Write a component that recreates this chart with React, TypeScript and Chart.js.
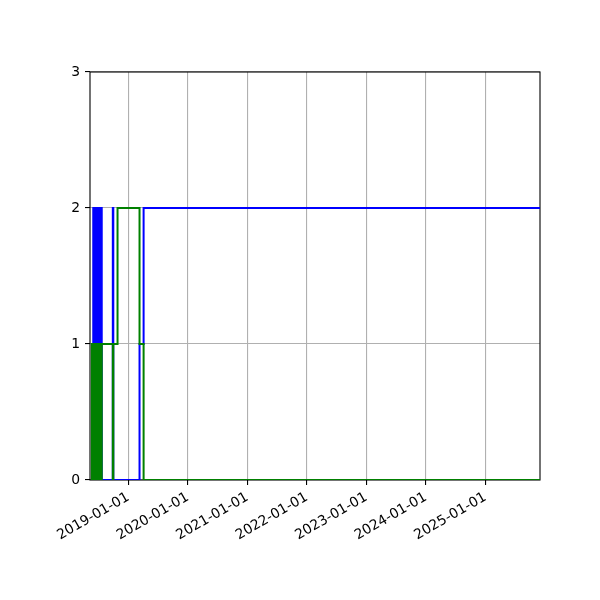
import React, { useEffect, useRef } from 'react';
import { Chart, registerables } from 'chart.js';

Chart.register(...registerables);

// dates where the values change (step held until the next date)
const changeDates = [
  '2018-05-20', '2018-05-22',
  '2018-05-31', '2018-06-04', '2018-06-08', '2018-06-12', '2018-06-16', '2018-06-20', '2018-06-24',
  '2018-06-28', '2018-07-02', '2018-07-06', '2018-07-10', '2018-07-14', '2018-07-18', '2018-07-22',
  '2018-09-28', '2018-10-01', '2018-10-27', '2019-03-11', '2019-04-05', '2025-12-02',
];
const blueValues = [0, 0, 2, 0, 2, 0, 2, 0, 2, 0, 2, 0, 2, 0, 2, 0, 2, 0, 0, 1, 2, 2];
const greenValues = [0, 1, 0, 1, 0, 1, 0, 1, 0, 1, 0, 1, 0, 1, 0, 1, 0, 1, 2, 1, 0, 0];

const xTickDates = ['2019-01-01', '2020-01-01', '2021-01-01', '2022-01-01', '2023-01-01', '2024-01-01', '2025-01-01'];
const yTicks = [0, 1, 2, 3];
const xMinDate = '2018-05-11';
const xMaxDate = '2025-12-02';

const toMs = (s: string) => {
  const [y, m, d] = s.split('-').map(Number);
  return Date.UTC(y, m - 1, d);
};

const fmtDate = (ms: number) => new Date(ms).toISOString().slice(0, 10);

const tickFont = { family: 'DejaVu Sans', size: 13.9 };

const boxPlugin = {
  id: 'axesBox',
  beforeDatasetsDraw(chart: Chart) {
    const { ctx, chartArea } = chart;
    ctx.save();
    ctx.strokeStyle = '#000';
    ctx.lineWidth = 1.1;
    ctx.strokeRect(chartArea.left, chartArea.top, chartArea.right - chartArea.left, chartArea.bottom - chartArea.top);
    ctx.restore();
  },
};

function StepChart() {
  const chartRef = useRef<HTMLCanvasElement | null>(null);
  const chartInstance = useRef<Chart | null>(null);

  useEffect(() => {
    if (!chartRef.current) return;
    if (chartInstance.current) chartInstance.current.destroy();

    const xs = changeDates.map(toMs);

    chartInstance.current = new Chart(chartRef.current, {
      type: 'line',
      data: {
        datasets: [
          {
            label: 'green',
            data: xs.map((x, i) => ({ x, y: greenValues[i] })),
            borderColor: '#008000',
            borderWidth: 2,
            pointRadius: 0,
            stepped: 'before',
            fill: false,
          },
          {
            label: 'blue',
            data: xs.map((x, i) => ({ x, y: blueValues[i] })),
            borderColor: '#0000ff',
            borderWidth: 2,
            pointRadius: 0,
            stepped: 'before',
            fill: false,
          },
        ],
      },
      options: {
        animation: false,
        responsive: false,
        devicePixelRatio: 1,
        layout: { padding: { left: 0, right: 60, top: 72, bottom: 0 } },
        plugins: { legend: { display: false }, tooltip: { enabled: false } },
        scales: {
          x: {
            type: 'linear',
            min: toMs(xMinDate),
            max: toMs(xMaxDate),
            afterBuildTicks: (scale: any) => {
              scale.ticks = xTickDates.map(d => ({ value: toMs(d) }));
            },
            afterFit: (scale: any) => {
              scale.height = 120;
            },
            ticks: {
              callback: (value: any) => fmtDate(Number(value)),
              minRotation: 30,
              maxRotation: 30,
              autoSkip: false,
              color: '#000',
              font: tickFont,
              padding: 4,
            },
            grid: { color: '#b0b0b0', lineWidth: 1.1, tickColor: '#000', tickLength: 5, tickWidth: 1.1 },
            border: { display: false },
          },
          y: {
            type: 'linear',
            min: 0,
            max: 3,
            afterBuildTicks: (scale: any) => {
              scale.ticks = yTicks.map(v => ({ value: v }));
            },
            afterFit: (scale: any) => {
              scale.width = 90;
            },
            ticks: { color: '#000', font: tickFont, padding: 5 },
            grid: { color: '#b0b0b0', lineWidth: 1.1, tickColor: '#000', tickLength: 5, tickWidth: 1.1 },
            border: { display: false },
          },
        },
      },
      plugins: [boxPlugin],
    });

    return () => {
      if (chartInstance.current) {
        chartInstance.current.destroy();
        chartInstance.current = null;
      }
    };
  }, []);

  return <canvas ref={chartRef} width={600} height={600} />;
}

export default function App() {
  return (
    <div style={{ position: 'absolute', left: 0, top: 0, width: 600, height: 600, background: '#fff' }}>
      <StepChart />
    </div>
  );
}
